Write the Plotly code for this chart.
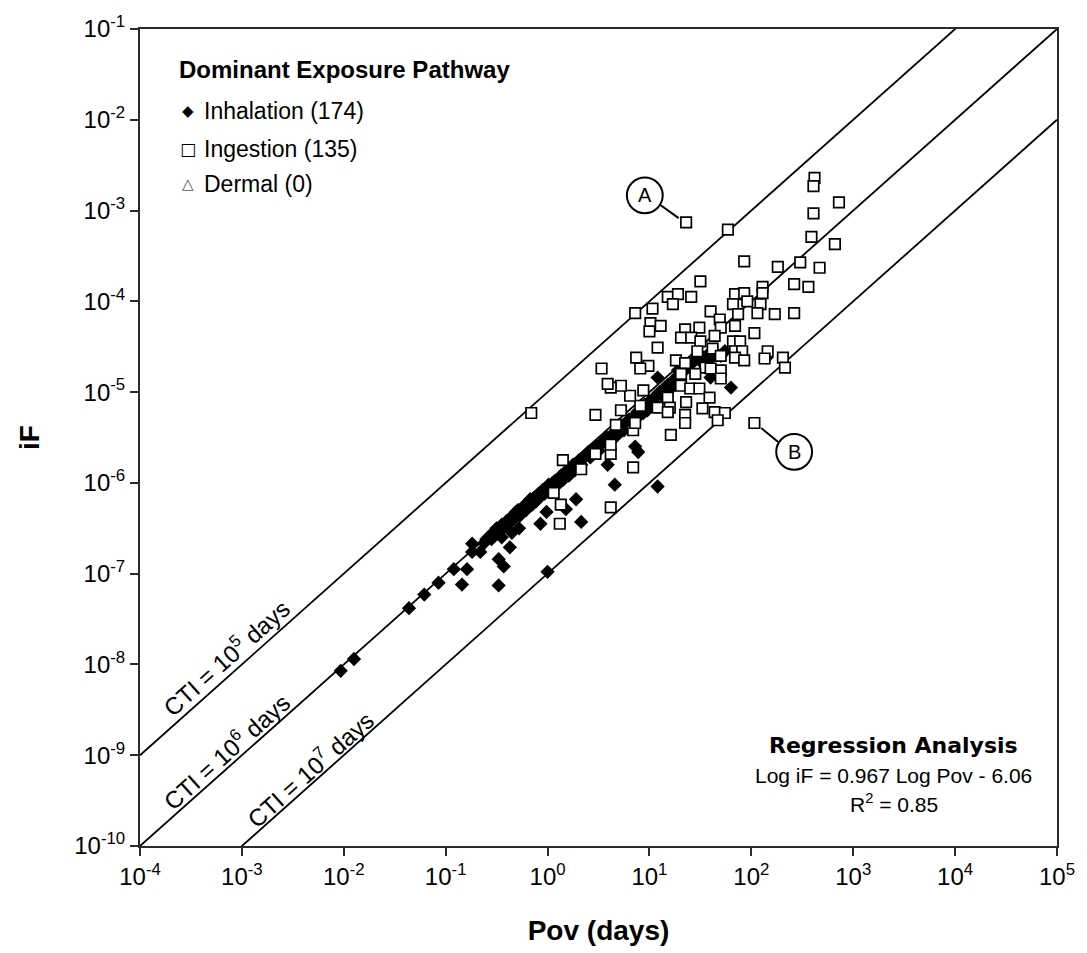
import numpy as np
import plotly.graph_objects as go

# ---------------- data (log10 units) ----------------
# Inhalation-dominated chemicals (black diamonds)
inhalation_log_pov = [
    -2.03, -1.90, -1.36, -1.21, -1.07, -0.92, -0.84, -0.79,
    -0.74, -0.74, -0.66, -0.60, -0.53, -0.45, -0.35, -0.28,
    -0.48, -0.43, -0.48, -0.37, -0.22, -0.31, -0.14, -0.07, -0.01, 0.18, 0.33, 0.28,
    0.00, 0.66, 0.59, 0.89, 0.86, 1.08, 0.94, 1.60, 1.80, 2.15, 1.08, 1.28,
    -0.62, -0.58, -0.55, -0.52, -0.50, -0.47, -0.45, -0.42, -0.40, -0.38,
    -0.36, -0.33, -0.31, -0.29, -0.27, -0.25, -0.23, -0.21, -0.19, -0.17,
    -0.15, -0.13, -0.11, -0.09, -0.07, -0.05, -0.03, -0.01, 0.01, 0.03,
    0.05, 0.07, 0.09, 0.11, 0.13, 0.15, 0.17, 0.19, 0.21, 0.23,
    0.25, 0.27, 0.29, 0.31, 0.33, 0.35, 0.38, 0.40, 0.42, 0.45,
    0.48, 0.50, 0.52, 0.55, 0.58, 0.60, 0.63, 0.66, 0.68, 0.70,
    0.73, 0.75, 0.78, 0.80, 0.83, 0.85, 0.88, 0.90, 0.93, 0.95,
    0.98, 1.00, 1.03, 1.05, 1.08, 1.10, 1.13, 1.15, 1.18, 1.20,
    1.23, 1.25, 1.28, 1.30, 1.33, 1.36, 1.38, 1.42, 1.45, 1.48,
    1.50, 1.53, 1.56, 1.60, 1.63, 1.66, 1.70, 1.74,
]
inhalation_log_if = [
    -8.07, -7.94, -7.38, -7.23, -7.10, -6.95, -7.12, -6.95,
    -6.76, -6.67, -6.76, -6.62, -6.54, -6.60, -6.55, -6.50,
    -7.13, -6.92, -6.84, -6.71, -6.26, -6.32, -6.18, -6.45, -6.32, -6.29, -6.43, -6.18,
    -6.98, -6.02, -5.80, -5.66, -5.60, -6.04, -5.23, -4.84, -4.95, -4.62, -4.84, -4.76,
    -6.66, -6.60, -6.62, -6.56, -6.50, -6.53, -6.46, -6.48, -6.42, -6.45,
    -6.38, -6.40, -6.35, -6.30, -6.36, -6.28, -6.25, -6.30, -6.22, -6.18,
    -6.24, -6.16, -6.20, -6.12, -6.15, -6.08, -6.12, -6.05, -6.02, -6.07,
    -6.00, -5.98, -6.03, -5.95, -5.92, -5.97, -5.90, -5.86, -5.92, -5.84,
    -5.80, -5.86, -5.78, -5.75, -5.80, -5.72, -5.70, -5.66, -5.72, -5.63,
    -5.60, -5.65, -5.57, -5.55, -5.50, -5.56, -5.47, -5.44, -5.48, -5.40,
    -5.37, -5.42, -5.33, -5.30, -5.35, -5.27, -5.22, -5.26, -5.18, -5.14,
    -5.20, -5.10, -5.08, -5.12, -5.02, -5.00, -5.05, -4.95, -4.92, -4.97,
    -4.88, -4.85, -4.90, -4.82, -4.78, -4.74, -4.70, -4.68, -4.64, -4.60,
    -4.66, -4.62, -4.60, -4.62, -4.60, -4.58, -4.60, -4.55,
]

# Ingestion-dominated chemicals (open squares)
ingestion_log_pov = [
    -0.16, 0.12, 0.13, 0.06, 0.15, 0.33, 0.47, 0.62, 0.62, 0.62,
    0.84, 0.84, 0.86, 0.67, 0.72, 0.47, 0.91, 0.81, 0.72, 0.62,
    0.59, 0.94,
    1.93, 2.26, 1.50, 1.18, 1.28, 1.41, 1.23, 1.03, 0.86, 1.84,
    1.93, 2.11, 2.11, 1.82, 1.96, 2.09, 1.60, 1.87, 2.06, 2.23,
    1.69, 1.01, 1.11, 1.00, 1.35, 1.49, 1.70, 1.84, 1.31, 1.41,
    1.50, 1.64, 1.82, 1.89, 2.03, 1.08, 1.47, 1.62, 1.84, 1.91,
    2.16, 1.70, 1.84, 1.93, 2.13, 0.87, 1.26, 1.35, 0.99, 0.91,
    0.53, 1.55, 1.70, 1.31, 1.45, 1.60, 1.70, 1.31, 1.40, 1.49,
    1.18, 1.59, 1.20, 1.08, 1.36, 1.52, 1.64, 1.74, 1.18, 1.35,
    1.35, 1.67, 1.21,
    2.03,
    2.62, 2.61, 2.86, 2.61, 1.77, 2.59, 2.82, 2.48, 2.67, 2.42,
    2.56, 2.42, 2.31, 2.33,
    1.36,
]
ingestion_log_if = [
    -5.23, -6.45, -6.24, -6.11, -5.75, -5.85, -5.68, -5.68, -5.58, -6.27,
    -5.83, -5.42, -5.34, -5.36, -5.20, -5.25, -5.15, -5.04, -4.93, -4.95,
    -4.91, -4.98,
    -3.56, -3.62, -3.78, -3.95, -3.92, -3.95, -4.03, -4.08, -4.13, -3.92,
    -3.91, -3.84, -3.91, -4.03, -4.00, -4.03, -4.11, -4.14, -4.13, -4.14,
    -4.20, -4.24, -4.27, -4.33, -4.31, -4.29, -4.29, -4.27, -4.40, -4.40,
    -4.44, -4.38, -4.44, -4.44, -4.35, -4.51, -4.55, -4.52, -4.55, -4.55,
    -4.55, -4.60, -4.62, -4.65, -4.63, -4.62, -4.65, -4.68, -4.71, -4.74,
    -4.74, -4.73, -4.76, -4.80, -4.80, -4.74, -4.85, -4.93, -4.96, -4.96,
    -5.06, -5.06, -5.17, -5.17, -5.11, -5.18, -5.22, -5.23, -5.22, -5.25,
    -5.34, -5.31, -5.47,
    -5.34,
    -2.64, -2.73, -2.91, -3.03, -3.21, -3.29, -3.37, -3.57, -3.63, -3.81,
    -3.84, -4.13, -4.62, -4.73,
    -3.13,
]

cti_exponents = [5, 6, 7]          # CTI = 10^n days
x_exponents = list(range(-4, 6))   # Pov axis decades
y_exponents = list(range(-10, 0))  # iF axis decades
legend_title = "Dominant Exposure Pathway"
legend_entries = ["Inhalation (174)", "Ingestion (135)", "Dermal (0)"]
regression_title = "Regression Analysis"
regression_lines = ["Log iF = 0.967 Log Pov - 6.06", "R<sup>2</sup> = 0.85"]

# ---------------- layout helpers ----------------
W, H = 1087, 953
ML, MR, MT, MB = 140, 26, 25, 103
PW, PH = W - ML - MR, H - MT - MB


def px(x):
    return (x - ML) / PW


def py(y):
    return (H - MB - y) / PH


FONT = "Liberation Sans, Arial, sans-serif"
INK = "#2b2b2b"

fig = go.Figure()

# CTI iso-lines: iF = Pov / CTI
pov_span = np.array([10.0 ** x_exponents[0], 10.0 ** x_exponents[-1]])
for n in cti_exponents:
    fig.add_trace(go.Scatter(
        x=pov_span, y=pov_span / 10.0 ** n, mode="lines",
        line=dict(color="black", width=1.8), hoverinfo="skip", showlegend=False))

fig.add_trace(go.Scatter(
    x=10.0 ** np.array(inhalation_log_pov), y=10.0 ** np.array(inhalation_log_if),
    mode="markers", name=legend_entries[0], showlegend=False,
    marker=dict(symbol="diamond", size=11, color="black", line=dict(width=0))))

fig.add_trace(go.Scatter(
    x=10.0 ** np.array(ingestion_log_pov), y=10.0 ** np.array(ingestion_log_if),
    mode="markers", name=legend_entries[1], showlegend=False,
    marker=dict(symbol="square", size=10.5, color="white", line=dict(width=1.7, color="black"))))

axis_common = dict(
    type="log", showgrid=False, zeroline=False, showline=True, mirror=True,
    linecolor=INK, linewidth=2, ticks="outside", ticklen=8, tickwidth=2, tickcolor=INK,
    tickfont=dict(family=FONT, size=24, color="black"),
)

fig.update_xaxes(
    range=[x_exponents[0], x_exponents[-1]],
    tickvals=[10.0 ** e for e in x_exponents],
    ticktext=[f"10<sup>{e}</sup>" for e in x_exponents],
    title=dict(text="<b>Pov (days)</b>", font=dict(family=FONT, size=28, color="black"), standoff=32),
    **axis_common)
fig.update_yaxes(
    range=[y_exponents[0], y_exponents[-1]],
    tickvals=[10.0 ** e for e in y_exponents],
    ticktext=[f"10<sup>{e}</sup>" for e in y_exponents],
    title=dict(text="<b>iF</b>", font=dict(family=FONT, size=28, color="black"), standoff=26),
    **axis_common)

ann = []
# CTI labels along the lines
slope_angle = -np.degrees(np.arctan((PH / 9) / (PW / 9)))
for n, (lx, ly) in zip(cti_exponents, [(-3.16, -7.92), (-3.16, -8.95), (-2.34, -9.15)]):
    ann.append(dict(x=lx, y=ly, xref="x", yref="y", text=f"CTI = 10<sup>{n}</sup> days",
                    showarrow=False, textangle=slope_angle,
                    font=dict(family=FONT, size=24, color="black")))

# legend block
ann.append(dict(x=px(177), y=py(66), xref="paper", yref="paper", xanchor="left", yanchor="middle",
                text=f"<b>{legend_title}</b>", showarrow=False,
                font=dict(family=FONT, size=24, color="black")))
symbols = [("◆", "black", 15), ("□", "black", 17), ("△", "#555555", 15)]
for (sym, col, fs), label, yy in zip(symbols, legend_entries, [108, 146, 182]):
    ann.append(dict(x=px(188), y=py(yy), xref="paper", yref="paper", xanchor="center", yanchor="middle",
                    text=sym, showarrow=False, font=dict(family="DejaVu Sans", size=fs, color=col)))
    ann.append(dict(x=px(202), y=py(yy), xref="paper", yref="paper", xanchor="left", yanchor="middle",
                    text=label, showarrow=False, font=dict(family=FONT, size=23, color="black")))

# regression block
ann.append(dict(x=px(897), y=py(749), xref="paper", yref="paper", xanchor="center", yanchor="middle",
                text=f"<b>{regression_title}</b>", showarrow=False,
                font=dict(family="DejaVu Sans", size=22, color="black")))
for txt, yy in zip(regression_lines, [779, 807]):
    ann.append(dict(x=px(897), y=py(yy), xref="paper", yref="paper", xanchor="center", yanchor="middle",
                    text=txt, showarrow=False, font=dict(family=FONT, size=21, color="black")))

# callout circles A and B
shapes = []
for letter, (cx, cy), (l0, l1) in [("A", (647, 193), ((663, 203), (681, 216))),
                                   ("B", (797, 452), ((764, 428), (781, 442)))]:
    r = 18
    shapes.append(dict(type="circle", xref="paper", yref="paper",
                       x0=px(cx - r), x1=px(cx + r), y0=py(cy + r), y1=py(cy - r),
                       line=dict(color="black", width=2), fillcolor="white"))
    shapes.append(dict(type="line", xref="paper", yref="paper",
                       x0=px(l0[0]), y0=py(l0[1]), x1=px(l1[0]), y1=py(l1[1]),
                       line=dict(color="black", width=2)))
    ann.append(dict(x=px(cx), y=py(cy), xref="paper", yref="paper", xanchor="center", yanchor="middle",
                    text=letter, showarrow=False, font=dict(family=FONT, size=20, color="black")))

fig.update_layout(
    width=W, height=H, margin=dict(l=ML, r=MR, t=MT, b=MB, pad=0),
    paper_bgcolor="white", plot_bgcolor="white",
    annotations=ann, shapes=shapes, showlegend=False,
)

fig.write_html("out.html", config={"displayModeBar": False},
               post_script="document.body.style.margin='0px';")
